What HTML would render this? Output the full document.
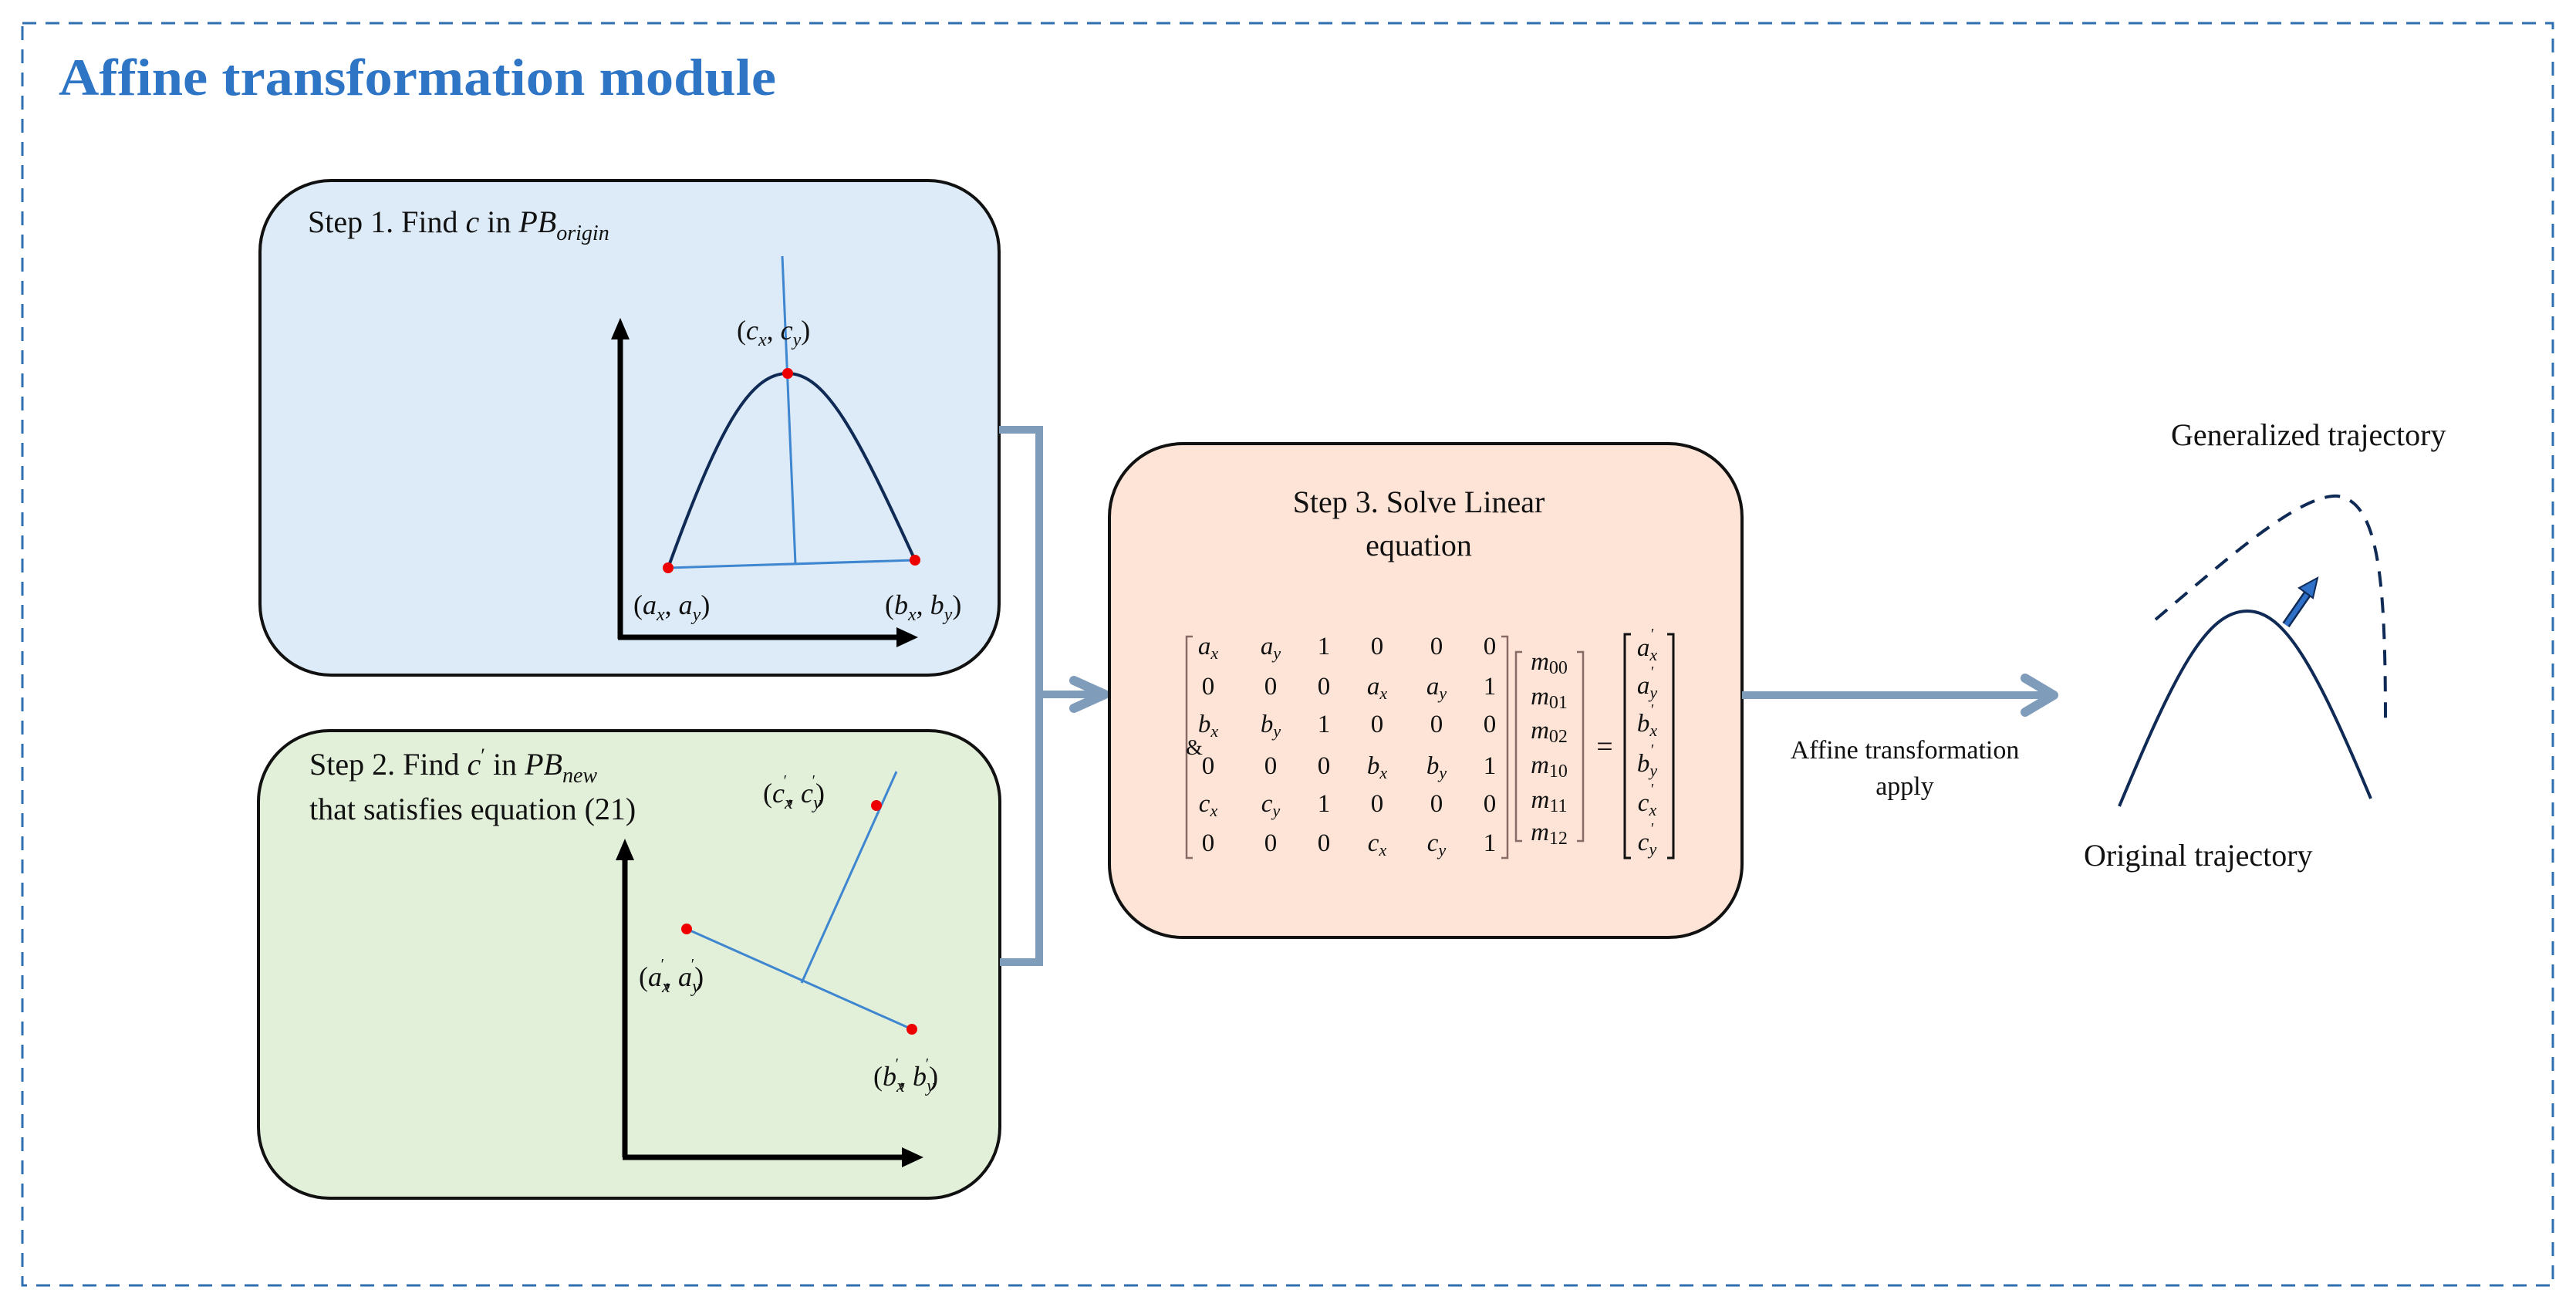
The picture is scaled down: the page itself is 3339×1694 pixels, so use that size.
<!DOCTYPE html>
<html><head><meta charset="utf-8"><style>
html,body{margin:0;padding:0;background:#fff}
svg{display:block}
text{font-family:"Liberation Serif",serif;fill:#111}
.it{font-style:italic}
</style></head><body>
<svg width="3339" height="1694" viewBox="0 0 3339 1694" xmlns="http://www.w3.org/2000/svg">
<rect x="29" y="30" width="3280" height="1636" fill="none" stroke="#2e6fb0" stroke-width="3" stroke-dasharray="18,12"/>
<text x="76" y="123" font-size="68" font-weight="bold" style="fill:#2e75c6" textLength="930" lengthAdjust="spacingAndGlyphs">Affine transformation module</text>

<!-- Step1 -->
<rect x="337" y="234" width="958" height="641" rx="92" fill="#dcebf7" stroke="#111" stroke-width="4"/>
<text x="399" y="301" font-size="40">Step 1. Find <tspan class="it">c</tspan> in <tspan class="it">PB</tspan><tspan class="it" font-size="28" dy="10">origin</tspan></text>
<line x1="1014" y1="332" x2="1031" y2="731" stroke="#3f86d0" stroke-width="3"/>
<line x1="866" y1="736" x2="1186" y2="726" stroke="#3f86d0" stroke-width="3"/>
<path d="M866,736 C930,560 970,484 1021,484 C1070,484 1110,560 1186,726" fill="none" stroke="#0f2a55" stroke-width="4"/>
<line x1="804" y1="828" x2="804" y2="435" stroke="#000" stroke-width="7"/>
<polygon points="804,412 792,440 816,440" fill="#000"/>
<line x1="801" y1="826" x2="1165" y2="826" stroke="#000" stroke-width="7"/>
<polygon points="1190,826 1162,813 1162,839" fill="#000"/>
<circle cx="866" cy="736" r="7" fill="#e00"/><circle cx="1021" cy="484" r="7" fill="#e00"/><circle cx="1186" cy="726" r="7" fill="#e00"/>
<text x="955" y="440" font-size="36">(<tspan class="it">c</tspan><tspan class="it" font-size="24" dy="8">x</tspan><tspan dy="-8">, </tspan><tspan class="it">c</tspan><tspan class="it" font-size="24" dy="8">y</tspan><tspan dy="-8">)</tspan></text>
<text x="821" y="796" font-size="36">(<tspan class="it">a</tspan><tspan class="it" font-size="24" dy="8">x</tspan><tspan dy="-8">, </tspan><tspan class="it">a</tspan><tspan class="it" font-size="24" dy="8">y</tspan><tspan dy="-8">)</tspan></text>
<text x="1147" y="796" font-size="36">(<tspan class="it">b</tspan><tspan class="it" font-size="24" dy="8">x</tspan><tspan dy="-8">, </tspan><tspan class="it">b</tspan><tspan class="it" font-size="24" dy="8">y</tspan><tspan dy="-8">)</tspan></text>

<!-- Step2 -->
<rect x="335" y="947" width="961" height="606" rx="92" fill="#e2f0d9" stroke="#111" stroke-width="4"/>
<text x="401" y="1004" font-size="40">Step 2. Find <tspan class="it">c</tspan><tspan font-size="26" dy="-16">′</tspan><tspan dy="16"> in </tspan><tspan class="it">PB</tspan><tspan class="it" font-size="28" dy="10">new</tspan></text>
<text x="401" y="1062" font-size="40">that satisfies equation (21)</text>
<line x1="890" y1="1204" x2="1182" y2="1334" stroke="#3f86d0" stroke-width="3"/>
<line x1="1039" y1="1274" x2="1162" y2="1000" stroke="#3f86d0" stroke-width="3"/>
<line x1="810" y1="1500" x2="810" y2="1110" stroke="#000" stroke-width="7"/>
<polygon points="810,1087 798,1115 822,1115" fill="#000"/>
<line x1="807" y1="1500" x2="1172" y2="1500" stroke="#000" stroke-width="7"/>
<polygon points="1197,1500 1169,1487 1169,1513" fill="#000"/>
<circle cx="890" cy="1204" r="7" fill="#e00"/><circle cx="1182" cy="1334" r="7" fill="#e00"/><circle cx="1136" cy="1044" r="7" fill="#e00"/>
<text x="989" y="1040" font-size="36">(<tspan class="it">c</tspan><tspan class="it" font-size="24" dy="8">x</tspan><tspan font-size="20" dx="-12" dy="-30">′</tspan><tspan dy="22">, </tspan><tspan class="it">c</tspan><tspan class="it" font-size="24" dy="8">y</tspan><tspan font-size="20" dx="-12" dy="-30">′</tspan><tspan dy="22">)</tspan></text>
<text x="828" y="1278" font-size="36">(<tspan class="it">a</tspan><tspan class="it" font-size="24" dy="8">x</tspan><tspan font-size="20" dx="-12" dy="-30">′</tspan><tspan dy="22">, </tspan><tspan class="it">a</tspan><tspan class="it" font-size="24" dy="8">y</tspan><tspan font-size="20" dx="-12" dy="-30">′</tspan><tspan dy="22">)</tspan></text>
<text x="1132" y="1407" font-size="36">(<tspan class="it">b</tspan><tspan class="it" font-size="24" dy="8">x</tspan><tspan font-size="20" dx="-12" dy="-30">′</tspan><tspan dy="22">, </tspan><tspan class="it">b</tspan><tspan class="it" font-size="24" dy="8">y</tspan><tspan font-size="20" dx="-12" dy="-30">′</tspan><tspan dy="22">)</tspan></text>

<!-- connector -->
<polyline points="1295,557 1347,557 1347,1247 1296,1247" fill="none" stroke="#7f9cba" stroke-width="10"/>
<line x1="1347" y1="900" x2="1430" y2="900" stroke="#7f9cba" stroke-width="10"/>
<polyline points="1392,882 1432,900 1392,918" fill="none" stroke="#7f9cba" stroke-width="12" stroke-linecap="round" stroke-linejoin="round"/>

<!-- Step3 -->
<rect x="1438" y="575" width="820" height="640" rx="95" fill="#fde4d6" stroke="#111" stroke-width="4"/>
<text x="1839" y="664" font-size="40" text-anchor="middle">Step 3. Solve Linear</text>
<text x="1839" y="720" font-size="40" text-anchor="middle">equation</text>
<g font-size="33" text-anchor="middle">
<path d="M1546,825 h-8 v287 h8" fill="none" stroke="#8a6a66" stroke-width="2.5"/>
<path d="M1946,825 h8 v287 h-8" fill="none" stroke="#8a6a66" stroke-width="2.5"/>
<text y="848"><tspan x="1566" class="it">a<tspan font-size="22" dy="6">x</tspan></tspan><tspan x="1647" dy="-6" class="it">a<tspan font-size="22" dy="6">y</tspan></tspan><tspan x="1716" dy="-6">1</tspan><tspan x="1785">0</tspan><tspan x="1862">0</tspan><tspan x="1931">0</tspan></text>
<text y="900"><tspan x="1566">0</tspan><tspan x="1647">0</tspan><tspan x="1716">0</tspan><tspan x="1785" class="it">a<tspan font-size="22" dy="6">x</tspan></tspan><tspan x="1862" dy="-6" class="it">a<tspan font-size="22" dy="6">y</tspan></tspan><tspan x="1931" dy="-6">1</tspan></text>
<text y="949"><tspan x="1566" class="it">b<tspan font-size="22" dy="6">x</tspan></tspan><tspan x="1647" dy="-6" class="it">b<tspan font-size="22" dy="6">y</tspan></tspan><tspan x="1716" dy="-6">1</tspan><tspan x="1785">0</tspan><tspan x="1862">0</tspan><tspan x="1931">0</tspan></text>
<text y="1003"><tspan x="1566">0</tspan><tspan x="1647">0</tspan><tspan x="1716">0</tspan><tspan x="1785" class="it">b<tspan font-size="22" dy="6">x</tspan></tspan><tspan x="1862" dy="-6" class="it">b<tspan font-size="22" dy="6">y</tspan></tspan><tspan x="1931" dy="-6">1</tspan></text>
<text y="1052"><tspan x="1566" class="it">c<tspan font-size="22" dy="6">x</tspan></tspan><tspan x="1647" dy="-6" class="it">c<tspan font-size="22" dy="6">y</tspan></tspan><tspan x="1716" dy="-6">1</tspan><tspan x="1785">0</tspan><tspan x="1862">0</tspan><tspan x="1931">0</tspan></text>
<text y="1103"><tspan x="1566">0</tspan><tspan x="1647">0</tspan><tspan x="1716">0</tspan><tspan x="1785" class="it">c<tspan font-size="22" dy="6">x</tspan></tspan><tspan x="1862" dy="-6" class="it">c<tspan font-size="22" dy="6">y</tspan></tspan><tspan x="1931" dy="-6">1</tspan></text>
<text x="1548" y="978" font-size="28">&amp;</text>
<path d="M1973,845 h-8 v245 h8" fill="none" stroke="#8a6a66" stroke-width="2.5"/>
<path d="M2044,845 h8 v245 h-8" fill="none" stroke="#8a6a66" stroke-width="2.5"/>
<text x="2008" y="868" class="it">m<tspan font-size="24" font-style="normal" dy="5">00</tspan></text>
<text x="2008" y="913" class="it">m<tspan font-size="24" font-style="normal" dy="5">01</tspan></text>
<text x="2008" y="957" class="it">m<tspan font-size="24" font-style="normal" dy="5">02</tspan></text>
<text x="2008" y="1002" class="it">m<tspan font-size="24" font-style="normal" dy="5">10</tspan></text>
<text x="2008" y="1047" class="it">m<tspan font-size="24" font-style="normal" dy="5">11</tspan></text>
<text x="2008" y="1089" class="it">m<tspan font-size="24" font-style="normal" dy="5">12</tspan></text>
<text x="2080" y="980" font-size="38">=</text>
<path d="M2114,822 h-8 v290 h8" fill="none" stroke="#111" stroke-width="3"/>
<path d="M2161,822 h8 v290 h-8" fill="none" stroke="#111" stroke-width="3"/>
<text x="2135" y="850" class="it">a<tspan font-size="22" dy="6">x</tspan></text>
<text x="2135" y="899" class="it">a<tspan font-size="22" dy="6">y</tspan></text>
<text x="2135" y="948" class="it">b<tspan font-size="22" dy="6">x</tspan></text>
<text x="2135" y="1000" class="it">b<tspan font-size="22" dy="6">y</tspan></text>
<text x="2135" y="1051" class="it">c<tspan font-size="22" dy="6">x</tspan></text>
<text x="2135" y="1102" class="it">c<tspan font-size="22" dy="6">y</tspan></text>
<g font-size="20"><text x="2142" y="828">′</text><text x="2142" y="877">′</text><text x="2142" y="926">′</text><text x="2142" y="978">′</text><text x="2142" y="1029">′</text><text x="2142" y="1080">′</text></g>
</g>

<!-- output arrow -->
<line x1="2258" y1="901" x2="2660" y2="901" stroke="#7f9cba" stroke-width="10"/>
<polyline points="2625,879 2662,901 2625,923" fill="none" stroke="#7f9cba" stroke-width="12" stroke-linecap="round" stroke-linejoin="round"/>
<text x="2469" y="983" font-size="34" text-anchor="middle">Affine transformation</text>
<text x="2469" y="1030" font-size="34" text-anchor="middle">apply</text>

<!-- trajectories -->
<path d="M2747,1045 C2820,870 2860,792 2913,792 C2960,792 3000,860 3073,1035" fill="none" stroke="#0f2a55" stroke-width="4"/>
<path d="M2794,803 C2880,730 2980,640 3030,643 C3085,650 3092,760 3092,937" fill="none" stroke="#0f2a55" stroke-width="4" stroke-dasharray="20,14"/>
<line x1="2963" y1="810" x2="2992" y2="768" stroke="#0f2a55" stroke-width="11"/>
<line x1="2963" y1="810" x2="2992" y2="768" stroke="#2f70c8" stroke-width="6"/>
<polygon points="3004,749 2980,762 2998,775" fill="#2f70c8" stroke="#0f2a55" stroke-width="2"/>
<text x="2814" y="577" font-size="40">Generalized trajectory</text>
<text x="2701" y="1122" font-size="40">Original trajectory</text>
</svg>
</body></html>
